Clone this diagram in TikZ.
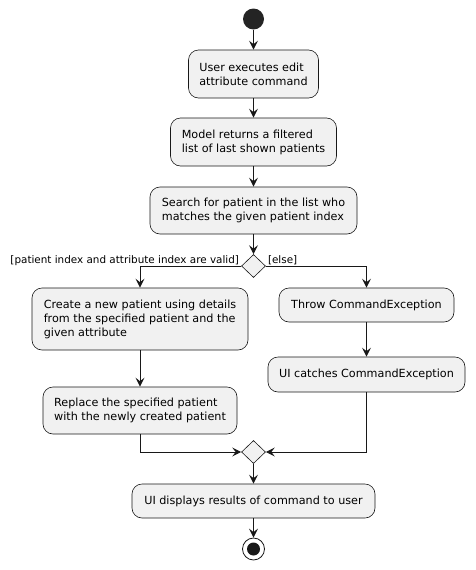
\documentclass[tikz,border=0pt]{standalone}
\usepackage{fontspec}
\setmainfont{DejaVu Sans}
\usetikzlibrary{arrows.meta}
\usetikzlibrary{shapes.geometric}
\definecolor{actfill}{HTML}{F1F1F1}
\definecolor{umlline}{HTML}{181818}
\tikzset{flow/.style = {draw=umlline, line width=0.9pt,
                        -{Stealth[length=9pt, width=9pt, inset=3.5pt]}}}
\tikzset{act/.style = {draw=umlline, fill=actfill, line width=0.6pt,
                       rounded corners=10pt, align=left, inner xsep=8pt,
                       inner ysep=0pt, font=\fontsize{11.2}{14}\selectfont}}
\tikzset{branch/.style = {diamond, draw=umlline, fill=actfill, line width=0.6pt,
                          inner sep=0, minimum width=24pt, minimum height=23pt}}
\tikzset{guard/.style = {inner sep=1pt, font=\fontsize{10.4}{12}\selectfont}}
\tikzset{startdot/.style = {circle, fill=umlline!95!white, inner sep=0, minimum size=21pt}}

\begin{document}
\begin{tikzpicture}[x=1pt, y=-1pt]
    \useasboundingbox (0, 0) rectangle (475, 570);

    \node [startdot] (start) at (253.5, 19) {};
    \node [act, minimum width=130pt, minimum height=48pt] (edit) at (253.5, 74) {User executes edit\\attribute command};
    \node [act, minimum width=166pt, minimum height=48pt] (filter) at (253.5, 142) {Model returns a filtered\\list of last shown patients};
    \node [act, minimum width=207pt, minimum height=47pt] (search) at (253.5, 210.5) {Search for patient in the list who\\matches the given patient index};
    \node [branch] (check) at (253.5, 266) {};

    \node [act, minimum width=216pt, minimum height=62pt] (create) at (140, 319) {Create a new patient using details\\from the specified patient and the\\given attribute};
    \node [act, minimum width=194pt, minimum height=47pt] (replace) at (140, 410.5) {Replace the specified patient\\with the newly created patient};

    \node [act, minimum width=175pt, minimum height=34pt] (throw) at (366.5, 305) {Throw CommandException};
    \node [act, minimum width=197pt, minimum height=35pt] (catch) at (366.5, 374.5) {UI catches CommandException};

    \node [branch] (merge) at (253.5, 452) {};
    \node [act, minimum width=243pt, minimum height=34pt] (show) at (253.5, 501) {UI displays results of command to user};
    \node [circle, draw=umlline, fill=white, line width=0.8pt, inner sep=0, minimum size=22pt] (stop) at (253.5, 549) {};
    \node [circle, fill=umlline, inner sep=0, minimum size=13pt] (stopdot) at (stop) {};

    \node [guard, anchor=base east] (yes) at ([xshift=-1pt, yshift=3pt]check.west) {[patient index and attribute index are valid]};
    \node [guard, anchor=base west] (no) at ([xshift=1pt, yshift=3pt]check.east) {[else]};

    \draw [flow] (start) -- (edit);
    \draw [flow] (edit) -- (filter);
    \draw [flow] (filter) -- (search);
    \draw [flow] (search) -- (check);
    \draw [flow] (check.west) -| (create);
    \draw [flow] (check.east) -| (throw);
    \draw [flow] (create) -- (replace);
    \draw [flow] (throw) -- (catch);
    \draw [flow] (replace) |- (merge.west);
    \draw [flow] (catch) |- (merge.east);
    \draw [flow] (merge) -- (show);
    \draw [flow] (show) -- (stop);
  \end{tikzpicture}
\end{document}
